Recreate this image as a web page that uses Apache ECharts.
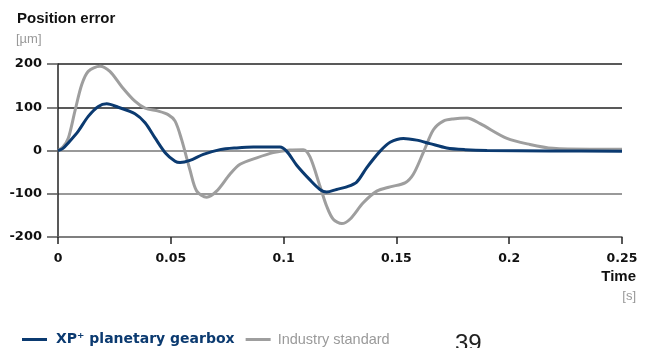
<!DOCTYPE html>
<html><head><meta charset="utf-8">
<script src="https://cdn.jsdelivr.net/npm/echarts@6/dist/echarts.min.js"></script>
<style>html,body{margin:0;padding:0;background:#fff}#c{width:654px;height:348px}</style>
</head><body><div id="c"></div>
<script>
var xpTime = [0,0.0022,0.0046,0.009,0.0134,0.0179,0.0216,0.0267,0.0341,0.0386,0.043,0.0475,0.0519,0.0541,0.0585,0.0644,0.0718,0.0792,0.0866,0.0984,0.1014,0.1058,0.1117,0.1161,0.1191,0.1235,0.128,0.1324,0.1368,0.1427,0.1472,0.1531,0.159,0.1649,0.1723,0.1804,0.1902,0.2181,0.25];
var xpValue = [0,5,18,45,79,102,108,100,85,64,29,-5,-25,-28,-23,-9,2,6,8,8,-2,-34,-68,-90,-96,-90,-84,-73,-40,-2,19,28,24,16,6,2,0,-1,-2];
var stdTime = [0,0.0022,0.0046,0.0075,0.0105,0.0134,0.0186,0.023,0.0282,0.0341,0.0386,0.0445,0.0488,0.0519,0.0548,0.0585,0.0615,0.0659,0.0703,0.0762,0.0807,0.0881,0.0954,0.1028,0.1087,0.1117,0.1161,0.1191,0.122,0.1258,0.1294,0.1353,0.1413,0.1472,0.1538,0.1575,0.1619,0.1664,0.1708,0.1751,0.1813,0.1871,0.199,0.2092,0.2194,0.2358,0.25];
var stdValue = [0,8,29,91,152,183,195,183,148,114,98,91,83,68,25,-45,-94,-108,-94,-55,-32,-17,-5,1,2,-15,-82,-129,-159,-169,-159,-121,-94,-84,-75,-55,-5,48,68,73,75,62,28,14,5,3,3];
var yTicks = [-200,-100,0,100,200];
var xTicks = [0,0.05,0.1,0.15,0.2,0.25];
var seriesNames = ['XP\u207A planetary gearbox','Industry standard'];

function pairs(t,v){return t.map(function(x,i){return [x,v[i]];});}
var FONT = 'Liberation Sans, Arial, sans-serif';
var NUMFONT = 'DejaVu Sans, Liberation Sans, sans-serif';
var BLUE = '#0b3a70', GRAY = '#9e9e9e';
var chart = echarts.init(document.getElementById('c'));
chart.setOption({
  animation:false,
  textStyle:{fontFamily:FONT},
  grid:{left:58,right:32,top:64,bottom:111,containLabel:false},
  xAxis:{type:'value',min:xTicks[0],max:xTicks[xTicks.length-1],interval:0.05,
    axisLine:{show:true,onZero:false,lineStyle:{color:'#777',width:1.5}},
    axisTick:{show:true,length:7,lineStyle:{color:'#222',width:1.5}},
    splitLine:{show:false},
    axisLabel:{color:'#111',fontWeight:'bold',fontSize:12.5,margin:15,fontFamily:NUMFONT,
      formatter:function(v){return String(+v.toFixed(2));}}},
  yAxis:{type:'value',min:yTicks[0],max:yTicks[yTicks.length-1],interval:100,
    axisLine:{show:true,lineStyle:{color:'#222',width:1.5}},
    axisTick:{show:true,length:11,lineStyle:{color:'#555',width:1.5}},
    splitLine:{show:true,lineStyle:{color:['#777','#777','#777','#222','#222'],width:1.5}},
    axisLabel:{color:'#111',fontWeight:'bold',fontSize:13,margin:16,fontFamily:NUMFONT}},
  legend:{left:17,top:327,itemGap:11,icon:'rect',itemWidth:25,itemHeight:3,
    data:[{name:seriesNames[0],textStyle:{color:BLUE,fontWeight:'bold',fontSize:14,fontFamily:NUMFONT,padding:[0,0,0,4]}},
          {name:seriesNames[1],textStyle:{color:'#9a9a9a',fontSize:14.5,fontFamily:FONT,padding:[0,0,0,2]}}]},
  series:[
    {name:seriesNames[1],type:'line',data:pairs(stdTime,stdValue),smooth:0.3,showSymbol:false,
      lineStyle:{color:GRAY,width:3},itemStyle:{color:GRAY},z:2},
    {name:seriesNames[0],type:'line',data:pairs(xpTime,xpValue),smooth:0.3,showSymbol:false,
      lineStyle:{color:BLUE,width:3},itemStyle:{color:BLUE},z:3}
  ],
  graphic:[
    {type:'text',left:17,top:11,style:{text:'Position error',font:'bold 15px '+FONT,fill:'#111'}},
    {type:'text',left:16,top:33,style:{text:'[\u00B5m]',font:'13px '+FONT,fill:'#999'}},
    {type:'text',right:18,top:269,style:{text:'Time',font:'bold 15px '+FONT,fill:'#111',align:'right'}},
    {type:'text',right:18,top:290,style:{text:'[s]',font:'13px '+FONT,fill:'#999',align:'right'}},
    {type:'text',left:455,top:332,style:{text:'39',font:'24px '+FONT,fill:'#222'}}
  ]
});
</script></body></html>
